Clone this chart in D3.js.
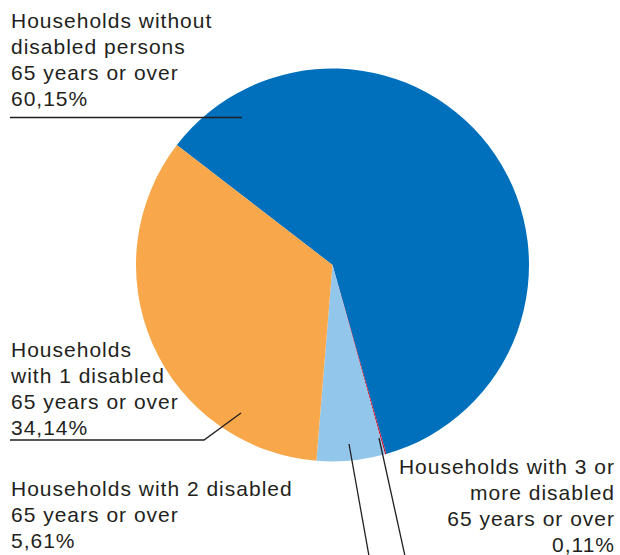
<!DOCTYPE html>
<html><head><meta charset="utf-8">
<script src="https://cdn.jsdelivr.net/npm/d3@7"></script>
<style>
html,body{margin:0;padding:0;background:#fff;}
svg text{font-family:"Liberation Sans",Arial,sans-serif;font-size:21px;fill:#231f20;letter-spacing:1px;}
</style></head>
<body>
<svg id="chart" width="620" height="555"></svg>
<script>
const categories = [
  "Households without disabled persons 65 years or over",
  "Households with 3 or more disabled 65 years or over",
  "Households with 2 disabled 65 years or over",
  "Households with 1 disabled 65 years or over"
];
const values = [60.15, 0.11, 5.61, 34.14];
const valueLabels = ["60,15%", "0,11%", "5,61%", "34,14%"];
const labelLines = [
  ["Households without", "disabled persons", "65 years or over", "60,15%"],
  ["Households with 3 or", "more disabled", "65 years or over", "0,11%"],
  ["Households with 2 disabled", "65 years or over", "5,61%"],
  ["Households", "with 1 disabled", "65 years or over", "34,14%"]
];
const colors = ["#0070bd", "#c8102e", "#93c6eb", "#f8a84a"];

const svg = d3.select("#chart");
const cx = 332.5, cy = 265, R = 196.5;
const startDeg = -52.4;

const pie = d3.pie().sort(null).value(d => d)
  .startAngle(startDeg * Math.PI / 180)
  .endAngle(startDeg * Math.PI / 180 + 2 * Math.PI);
const arcs = pie(values);
const arc = d3.arc().innerRadius(0).outerRadius(R);

const g = svg.append("g").attr("transform", `translate(${cx},${cy})`);
g.selectAll("path").data(arcs).enter().append("path")
  .attr("d", arc)
  .attr("fill", (d, i) => colors[i]);

// text labels
const labelPos = [
  {x: 11, y: 28, anchor: "start"},
  {x: 615, y: 474, anchor: "end"},
  {x: 11, y: 496, anchor: "start"},
  {x: 11, y: 357, anchor: "start"}
];
const lh = 26;
labelLines.forEach((lines, i) => {
  const p = labelPos[i];
  const t = svg.append("text").attr("text-anchor", p.anchor);
  lines.forEach((ln, j) => {
    t.append("tspan").attr("x", p.x).attr("y", p.y + j * lh).text(ln);
  });
});

// leader lines
const leaders = [
  [[10, 117.5], [242, 117.5]],
  [[379, 438], [405, 556]],
  [[349, 444], [369, 556]],
  [[10, 440], [204, 440], [241, 413]]
];
leaders.forEach(pts => {
  svg.append("path")
    .attr("d", d3.line()(pts))
    .attr("fill", "none")
    .attr("stroke", "#231f20")
    .attr("stroke-width", 1.3);
});
</script>
</body></html>
